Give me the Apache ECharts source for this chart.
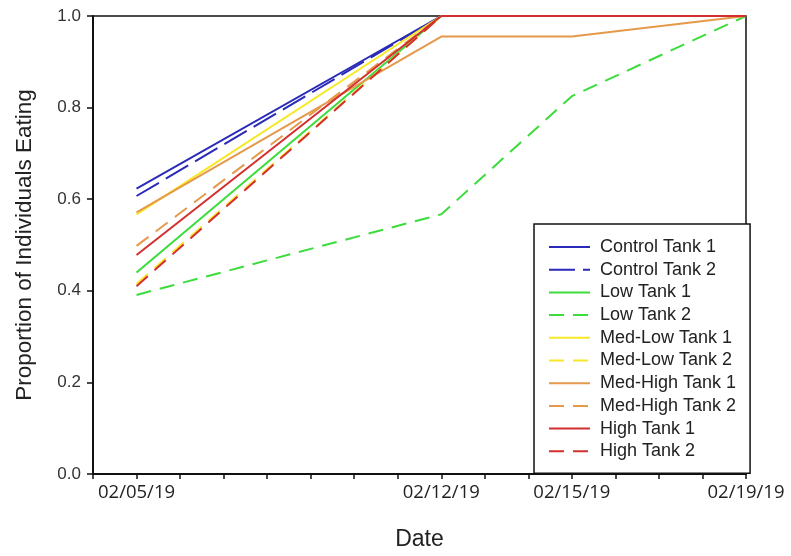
<!DOCTYPE html>
<html><head><meta charset="utf-8">
<script src="https://cdn.jsdelivr.net/npm/echarts@6/dist/echarts.min.js"></script>
<style>html,body{margin:0;padding:0;background:#fff}#c{width:791px;height:556px}</style>
</head><body><div id="c"></div>
<script>
var dates = ['2019-02-05', '2019-02-12', '2019-02-15', '2019-02-19'];
var xTickLabels = ['02/05/19', '02/12/19', '02/15/19', '02/19/19'];
var xMin = '2019-02-04';
var xMax = '2019-02-19';
var seriesNames = ['Control Tank 1', 'Control Tank 2', 'Low Tank 1', 'Low Tank 2', 'Med-Low Tank 1', 'Med-Low Tank 2', 'Med-High Tank 1', 'Med-High Tank 2', 'High Tank 1', 'High Tank 2'];
var control1 = [0.623, 1, 1, 1];
var control2 = [0.607, 1, 1, 1];
var low1 = [0.440, 1, 1, 1];
var low2 = [0.391, 0.567, 0.825, 1];
var medLow1 = [0.567, 1, 1, 1];
var medLow2 = [0.415, 1, 1, 1];
var medHigh1 = [0.571, 0.955, 0.955, 1];
var medHigh2 = [0.498, 1, 1, 1];
var high1 = [0.478, 1, 1, 1];
var high2 = [0.410, 1, 1, 1];
var yTicks = ['0.0', '0.2', '0.4', '0.6', '0.8', '1.0'];

var values = [control1, control2, low1, low2, medLow1, medLow2, medHigh1, medHigh2, high1, high2];
var colors = ['#2a2ab8', '#2a2ab8', '#3cdc3c', '#3cdc3c', '#f7e825', '#f7e825', '#e5994a', '#e5994a', '#d32f2f', '#d32f2f'];
var dashes = ['solid', [26, 8], 'solid', [15, 9], 'solid', [15, 9], 'solid', [15, 9], 'solid', [15, 9]];

function parseD(s){ var p = s.split('-'); return new Date(+p[0], +p[1]-1, +p[2]).getTime(); }
var labelMap = {};
dates.forEach(function(d,i){ labelMap[parseD(d)] = xTickLabels[i]; });

var series = values.map(function(v, i){
  return {
    name: seriesNames[i], type: 'line', symbol: 'none', clip: false,
    data: dates.map(function(d, j){ return [parseD(d), v[j]]; }),
    lineStyle: { color: colors[i], width: 2, type: dashes[i] },
    itemStyle: { color: colors[i] },
    emphasis: { disabled: true }
  };
});

var chart = echarts.init(document.getElementById('c'));
chart.setOption({
  animation: false,
  backgroundColor: '#fff',
  grid: { left: 93, right: 45, top: 16, bottom: 80, show: true, borderColor: '#111', borderWidth: 1.5, backgroundColor: 'transparent' },
  xAxis: {
    type: 'time', min: parseD(xMin), max: parseD(xMax),
    minInterval: 86400000, maxInterval: 86400000,
    name: 'Date', nameLocation: 'middle', nameGap: 54,
    nameTextStyle: { fontFamily: 'Liberation Sans', fontSize: 23, color: '#222' },
    axisLine: { lineStyle: { color: '#111', width: 2 } },
    axisTick: { show: true, length: 5, lineStyle: { color: '#111', width: 1.5 } },
    splitLine: { show: false },
    axisLabel: {
      showMinLabel: true, showMaxLabel: true, hideOverlap: false,
      fontFamily: 'Open Sans', fontSize: 18.5, color: '#222', margin: 9,
      formatter: function(val){ return labelMap[val] || ''; }
    }
  },
  yAxis: {
    type: 'value', min: 0, max: 1, interval: 0.2,
    name: 'Proportion of Individuals Eating', nameLocation: 'middle', nameGap: 57,
    nameTextStyle: { fontFamily: 'Liberation Sans', fontSize: 22.5, color: '#222' },
    axisLine: { show: true, lineStyle: { color: '#111', width: 2 } },
    axisTick: { show: true, length: 6, lineStyle: { color: '#111', width: 1.5 } },
    splitLine: { show: false },
    axisLabel: { fontFamily: 'Liberation Sans', fontSize: 17, color: '#333', margin: 12,
      formatter: function(v){ return yTicks[Math.round(v / 0.2)]; } }
  },
  legend: {
    orient: 'vertical', left: 534, top: 224,
    data: seriesNames,
    itemWidth: 41, itemHeight: 14, itemGap: 4.7,
    padding: [14, 14, 13, 14],
    borderColor: '#111', borderWidth: 1.5, backgroundColor: '#fff',
    selectedMode: false,
    itemStyle: { opacity: 0 },
    textStyle: { fontFamily: 'Liberation Sans', fontSize: 18, color: '#222', padding: [0, 0, 0, 5] }
  },
  series: series
});
</script></body></html>
